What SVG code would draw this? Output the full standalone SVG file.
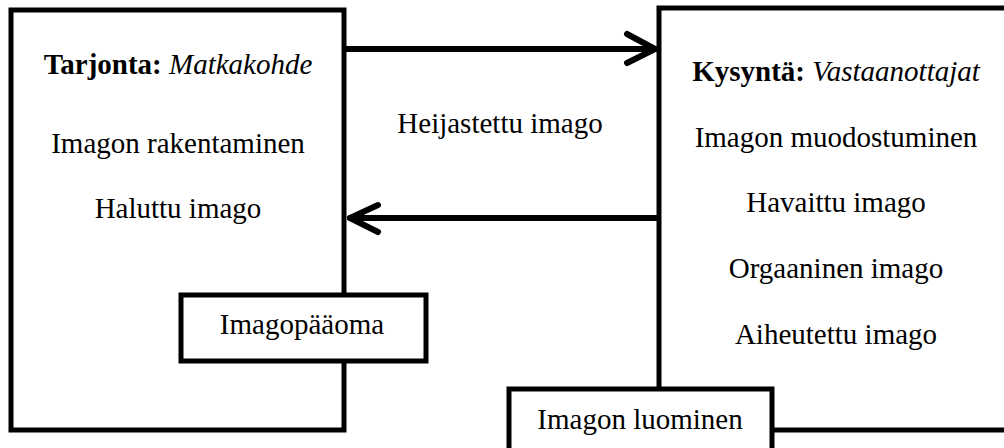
<svg xmlns="http://www.w3.org/2000/svg" width="1004" height="448" viewBox="0 0 1004 448">
<style>
.box{fill:#fff;stroke:#000;stroke-width:5}
.t{font-family:"Liberation Serif","Times New Roman",serif;font-size:29px;fill:#000;text-anchor:middle}
.b{font-weight:bold}
.i{font-style:italic}
.conn{fill:none;stroke:#000;stroke-width:6;stroke-linecap:round;stroke-linejoin:round}
</style>
<rect width="1004" height="448" fill="#fff"/>
<g id="tarjonta">
<rect class="box" x="11" y="10" width="333" height="420"/>
<text class="t" x="178" y="74"><tspan class="b">Tarjonta:</tspan> <tspan class="i">Matkakohde</tspan></text>
<text class="t" x="178" y="153">Imagon rakentaminen</text>
<text class="t" x="178" y="218">Haluttu imago</text>
</g>
<g id="kysynta">
<rect class="box" x="659" y="8" width="360" height="422"/>
<text class="t" x="836" y="81"><tspan class="b">Kysyntä:</tspan> <tspan class="i">Vastaanottajat</tspan></text>
<text class="t" x="836" y="147">Imagon muodostuminen</text>
<text class="t" x="836" y="212">Havaittu imago</text>
<text class="t" x="836" y="278">Orgaaninen imago</text>
<text class="t" x="836" y="344">Aiheutettu imago</text>
</g>
<g id="imagopaaoma">
<rect class="box" x="181" y="295" width="245" height="66"/>
<text class="t" x="302" y="334">Imagopääoma</text>
</g>
<g id="imagon-luominen">
<rect class="box" x="509" y="389" width="263" height="70"/>
<text class="t" x="640" y="429">Imagon luominen</text>
</g>
<g id="connectors">
<line class="conn" x1="346" y1="49" x2="655" y2="49"/>
<polyline class="conn" points="627,34 655,49 627,63"/>
<line class="conn" x1="657" y1="218" x2="350" y2="218"/>
<polyline class="conn" points="378,205 350,218 378,232"/>
<text class="t" x="500" y="133">Heijastettu imago</text>
</g>
</svg>
